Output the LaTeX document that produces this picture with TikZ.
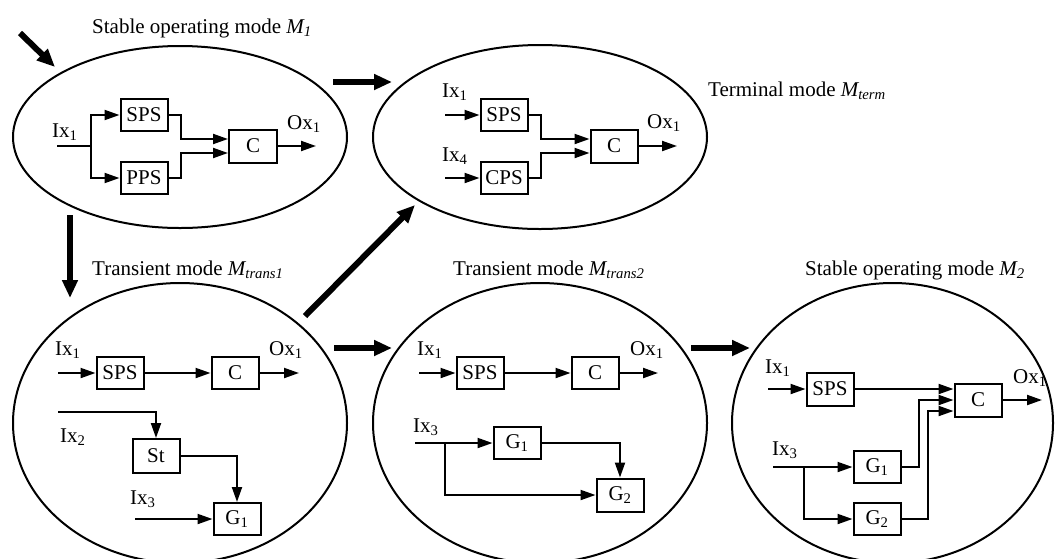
\documentclass[tikz,border=0pt]{standalone}
\usepackage{fontspec}
\setmainfont{Liberation Serif}
\usetikzlibrary{arrows.meta,shapes.geometric}
\begin{document}
\begin{tikzpicture}[x=1pt,y=-1pt,
  font=\fontsize{21}{25}\selectfont,
  mode/.style={draw, ellipse, line width=2pt, inner sep=0pt},
  blk/.style={draw, line width=2pt, minimum width=47pt, minimum height=32pt, inner sep=0pt},
  lbl/.style={inner sep=0pt, anchor=base west},
  wire/.style={line width=2pt},
  flow/.style={line width=2pt, -{Triangle[length=15pt,width=10pt]}},
  jump/.style={line width=6pt, -{Triangle[length=18pt,width=15pt]}}]
\useasboundingbox (0,0) rectangle (1056,558);

% mode ellipses
\node[mode, minimum width=334pt, minimum height=182pt] (m1)   at (180,137) {};
\node[mode, minimum width=334pt, minimum height=184pt] (mt)   at (540,137) {};
\node[mode, minimum width=334pt, minimum height=280pt] (mtr1) at (180,423) {};
\node[mode, minimum width=334pt, minimum height=280pt] (mtr2) at (540,423) {};
\node[mode, minimum width=321pt, minimum height=280pt] (m2)   at (892.5,423) {};

% titles
\node[lbl] (t1)   at (92,33)  {Stable operating mode \textit{M\textsubscript{1}}};
\node[lbl] (tt)   at (708,96) {Terminal mode \textit{M\textsubscript{term}}};
\node[lbl] (ttr1) at (92,275) {Transient mode \textit{M\textsubscript{trans1}}};
\node[lbl] (ttr2) at (453,275) {Transient mode \textit{M\textsubscript{trans2}}};
\node[lbl] (t2)   at (805,275) {Stable operating mode \textit{M\textsubscript{2}}};

% transitions between modes
\coordinate (s0) at (20,33);   \coordinate (e0) at (55,67);
\coordinate (s1) at (333,82);  \coordinate (e1) at (392,82);
\coordinate (s2) at (70,215);  \coordinate (e2) at (70,298);
\coordinate (s3) at (305,316); \coordinate (e3) at (415,205);
\coordinate (s4) at (334,348); \coordinate (e4) at (392,348);
\coordinate (s5) at (691,348); \coordinate (e5) at (750,348);
\foreach \i in {0,...,5} \draw[jump] (s\i) -- (e\i);

% ---- M1 ----
\node[blk] (a-sps) at (144,115) {SPS};
\node[blk] (a-pps) at (144,178) {PPS};
\node[blk, minimum width=48pt, minimum height=33pt] (a-c) at (253,146) {C};
\node[lbl] (a-ix1) at (52,137) {Ix\textsubscript{1}};
\node[lbl] (a-ox1) at (287,129) {Ox\textsubscript{1}};
\coordinate (a-in) at (57,146);
\coordinate (a-br) at (91,146);
\coordinate (a-out) at (316,146);
\draw[wire] (a-in) -- (a-br);
\draw[flow] (a-br) |- (a-sps.west);
\draw[flow] (a-br) |- (a-pps.west);
\draw[flow] (a-sps.east) -- ++(12,0) |- ([yshift=7pt]a-c.west);
\draw[flow] (a-pps.east) -- ++(12,0) |- ([yshift=-7pt]a-c.west);
\draw[flow] (a-c.east) -- (a-out);

% ---- terminal mode ----
\node[blk] (b-sps) at (504,115) {SPS};
\node[blk] (b-cps) at (504,178) {CPS};
\node[blk, minimum width=47pt, minimum height=33pt] (b-c) at (614,146) {C};
\node[lbl] (b-ix1) at (442,97)  {Ix\textsubscript{1}};
\node[lbl] (b-ix4) at (442,161) {Ix\textsubscript{4}};
\node[lbl] (b-ox1) at (647,128) {Ox\textsubscript{1}};
\coordinate (b-in1) at (445,115);
\coordinate (b-in4) at (445,178);
\coordinate (b-out) at (677,146);
\draw[flow] (b-in1) -- (b-sps.west);
\draw[flow] (b-in4) -- (b-cps.west);
\draw[flow] (b-sps.east) -- ++(12,0) |- ([yshift=7pt]b-c.west);
\draw[flow] (b-cps.east) -- ++(12,0) |- ([yshift=-7pt]b-c.west);
\draw[flow] (b-c.east) -- (b-out);

% ---- transient mode 1 ----
\node[blk] (c-sps) at (120,373) {SPS};
\node[blk] (c-c)   at (235,373) {C};
\node[blk, minimum height=34pt] (c-st) at (156,456) {St};
\node[blk] (c-g1)  at (237,519) {G\textsubscript{1}};
\node[lbl] (c-ix1) at (55,355)  {Ix\textsubscript{1}};
\node[lbl] (c-ox1) at (269,355) {Ox\textsubscript{1}};
\node[lbl] (c-ix2) at (60,442)  {Ix\textsubscript{2}};
\node[lbl] (c-ix3) at (130,504) {Ix\textsubscript{3}};
\coordinate (c-in1) at (58,373);
\coordinate (c-in2) at (58,412);
\coordinate (c-in3) at (135,519);
\coordinate (c-out) at (299,373);
\draw[flow] (c-in1) -- (c-sps.west);
\draw[flow] (c-sps.east) -- (c-c.west);
\draw[flow] (c-c.east) -- (c-out);
\draw[flow] (c-in2) -| (c-st.north);
\draw[flow] (c-st.east) -| (c-g1.north);
\draw[flow] (c-in3) -- (c-g1.west);

% ---- transient mode 2 ----
\node[blk] (d-sps) at (480,373) {SPS};
\node[blk] (d-c)   at (595,373) {C};
\node[blk] (d-g1)  at (517,443) {G\textsubscript{1}};
\node[blk, minimum height=33pt] (d-g2) at (620,495) {G\textsubscript{2}};
\node[lbl] (d-ix1) at (417,355) {Ix\textsubscript{1}};
\node[lbl] (d-ox1) at (630,355) {Ox\textsubscript{1}};
\node[lbl] (d-ix3) at (413,432) {Ix\textsubscript{3}};
\coordinate (d-in1) at (419,373);
\coordinate (d-in3) at (415,443);
\coordinate (d-br)  at (445,443);
\coordinate (d-out) at (658,373);
\draw[flow] (d-in1) -- (d-sps.west);
\draw[flow] (d-sps.east) -- (d-c.west);
\draw[flow] (d-c.east) -- (d-out);
\draw[flow] (d-in3) -- (d-g1.west);
\draw[flow] (d-br) |- (d-g2.west);
\draw[flow] (d-g1.east) -| (d-g2.north);

% ---- M2 ----
\node[blk, minimum height=33pt] (e-sps) at (830,389) {SPS};
\node[blk, minimum height=33pt] (e-c)   at (978,400) {C};
\node[blk] (e-g1) at (877,467) {G\textsubscript{1}};
\node[blk] (e-g2) at (877,519) {G\textsubscript{2}};
\node[lbl] (e-ix1) at (765,373)  {Ix\textsubscript{1}};
\node[lbl] (e-ox1) at (1013,383) {Ox\textsubscript{1}};
\node[lbl] (e-ix3) at (772,455)  {Ix\textsubscript{3}};
\coordinate (e-in1) at (768,389);
\coordinate (e-in3) at (773,467);
\coordinate (e-br)  at (804,467);
\coordinate (e-out) at (1042,400);
\draw[flow] (e-in1) -- (e-sps.west);
\draw[flow] (e-sps.east) -- ([yshift=11pt]e-c.west);
\draw[flow] (e-g1.east) -- ++(17,0) |- (e-c.west);
\draw[flow] (e-g2.east) -- ++(26,0) |- ([yshift=-11pt]e-c.west);
\draw[flow] (e-c.east) -- (e-out);
\draw[flow] (e-in3) -- (e-g1.west);
\draw[flow] (e-br) |- (e-g2.west);
\end{tikzpicture}
\end{document}
